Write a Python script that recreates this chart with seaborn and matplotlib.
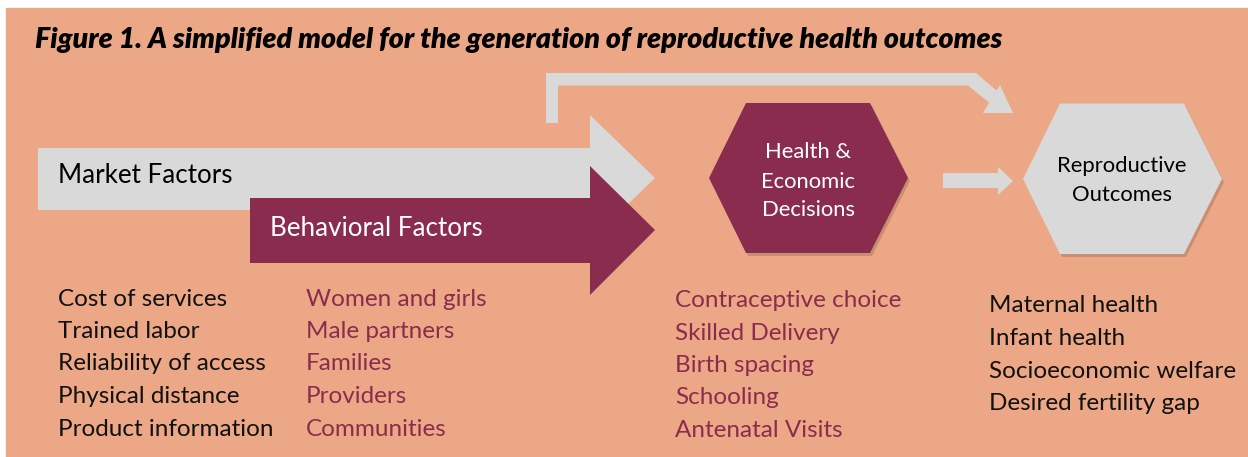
import matplotlib
matplotlib.use("Agg")
import matplotlib.pyplot as plt
from matplotlib.patches import Polygon, Rectangle
import seaborn as sns

# Texts of the diagram
title = "Figure 1. A simplified model for the generation of reproductive health outcomes"
market_label = "Market Factors"
behavior_label = "Behavioral Factors"
decisions_label = ["Health &", "Economic", "Decisions"]
outcomes_label = ["Reproductive", "Outcomes"]

market_items = ["Cost of services", "Trained labor", "Reliability of access",
                "Physical distance", "Product information"]
behavior_items = ["Women and girls", "Male partners", "Families",
                  "Providers", "Communities"]
decision_items = ["Contraceptive choice", "Skilled Delivery", "Birth spacing",
                  "Schooling", "Antenatal Visits"]
outcome_items = ["Maternal health", "Infant health", "Socioeconomic welfare",
                 "Desired fertility gap"]

# Colours
BG = "#ECA886"
GRAY = "#D9D9D9"
MAROON = "#8A2C4D"
SHADOW = "#C98E72"

sns.set_theme(style="white")
plt.rcParams['font.family'] = ['Lato', 'DejaVu Sans']

W, H = 1248, 457
fig = plt.figure(figsize=(W / 100, H / 100), dpi=100)
ax = fig.add_axes([0, 0, 1, 1])
ax.set_xlim(0, W)
ax.set_ylim(H, 0)
ax.axis("off")

# fond saumon
ax.add_patch(Rectangle((6, 8), W - 6, H - 8, color=BG, zorder=0))


def poly(pts, color, z=2, shadow=False):
    if shadow:
        sp = [(x + 2, y + 3) for x, y in pts]
        ax.add_patch(Polygon(sp, closed=True, color=SHADOW, lw=0, zorder=z - 0.5))
    ax.add_patch(Polygon(pts, closed=True, color=color, lw=0, zorder=z))


# fleche coudee du haut
poly([(546, 123), (546, 73), (976, 73), (996.6, 90.6), (989.3, 102.6),
      (968, 85.5), (558, 85.5), (558, 123)], GRAY)
poly([(983, 113), (1000, 85), (1013, 113)], GRAY)

# fleches des facteurs
poly([(38, 148), (590, 148), (590, 115), (655, 178), (590, 241),
      (590, 210), (38, 210)], GRAY, z=2)
poly([(250, 198), (590, 198), (590, 166), (655, 230), (590, 295),
      (590, 263), (250, 263)], MAROON, z=3)

# petite fleche entre les hexagones
poly([(943, 173), (998, 173), (998, 167), (1013, 181), (998, 195),
      (998, 188), (943, 188)], GRAY)

# hexagones
poly([(709, 178), (746, 103), (870, 103), (908, 178), (870, 253), (746, 253)],
     MAROON, shadow=True)
poly([(1023, 179), (1060, 103.5), (1184, 103.5), (1222, 179), (1184, 254),
      (1060, 254)], GRAY, shadow=True)

# titre
ax.text(35, 48, title, fontsize=20.6, fontweight="heavy", fontstyle="italic",
        color="black", va="baseline", ha="left", zorder=5)

ax.text(58, 183, market_label, fontsize=18.7, color="black", va="baseline", zorder=5)
ax.text(270, 236, behavior_label, fontsize=18.7, color="white", va="baseline", zorder=5)

for i, s in enumerate(decisions_label):
    ax.text(808, 158.5 + i * 29, s, fontsize=15.8, color="white",
            ha="center", va="baseline", zorder=5)
for i, s in enumerate(outcomes_label):
    ax.text(1122, 172 + i * 29, s, fontsize=15.8, color="black",
            ha="center", va="baseline", zorder=5)

# listes
step = 32.5
columns = [(market_items, 58, 305.5, "#111111"),
           (behavior_items, 306, 305.5, MAROON),
           (decision_items, 675, 307, MAROON),
           (outcome_items, 989, 312.5, "#111111")]
for items, x0, y0, col in columns:
    for i, s in enumerate(items):
        ax.text(x0, y0 + i * step, s, fontsize=17.5, color=col,
                va="baseline", ha="left", zorder=5)

fig.savefig("out.png", dpi=100, facecolor="white")
